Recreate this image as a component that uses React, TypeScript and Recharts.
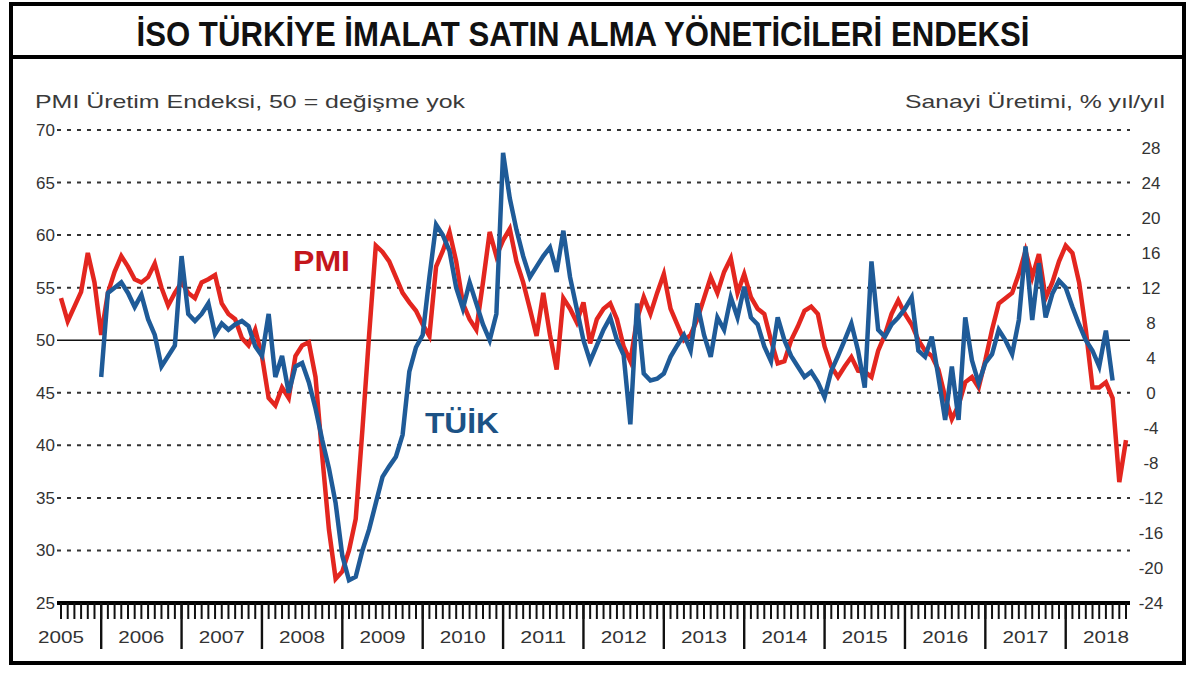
import { LineChart, Line, XAxis, YAxis, ReferenceLine } from "recharts";

// Jul 2005 .. Oct 2018, monthly
const years = [2005, 2006, 2007, 2008, 2009, 2010, 2011, 2012, 2013, 2014, 2015, 2016, 2017, 2018];
const firstMonth = 7;
const lastMonth = 10;

// PMI Üretim Endeksi (left axis), one row per year
const pmi = [
  54.0, 51.8, 53.2, 54.6, 58.3, 55.5,
  50.5, 54.5, 56.5, 58.0, 57.0, 55.8, 55.5, 56.0, 57.3, 55.0, 53.3, 54.5,
  55.5, 54.5, 54.0, 55.5, 55.8, 56.2, 53.5, 52.5, 52.0, 50.2, 49.5, 51.0,
  48.5, 44.5, 43.8, 45.5, 44.5, 48.5, 49.5, 49.8, 46.5, 39.0, 32.0, 27.3,
  28.0, 30.0, 33.0, 41.5, 50.5, 59.0, 58.4, 57.5, 56.0, 54.5, 53.6, 52.8,
  51.5, 50.4, 57.0, 58.5, 60.3, 57.5, 53.5, 52.0, 51.0, 55.5, 60.3, 58.0,
  59.5, 60.6, 57.5, 55.5, 53.0, 50.4, 54.5, 50.5, 47.2, 54.0, 53.0, 51.7,
  53.6, 49.7, 52.0, 53.0, 53.5, 52.0, 49.4, 48.0, 52.0, 54.1, 52.5, 54.5,
  56.3, 53.0, 51.5, 50.0, 50.5, 52.0, 54.0, 56.0, 54.5, 56.5, 57.8, 54.5,
  56.3, 54.1, 53.0, 52.5, 50.0, 47.8, 48.0, 50.0, 51.3, 52.8, 53.2, 52.5,
  49.4, 47.5, 46.5, 47.5, 48.4, 47.1, 47.0, 46.5, 49.0, 50.5, 52.5, 53.8,
  52.5, 51.5, 50.0, 49.0, 48.5, 47.2, 44.6, 42.5, 43.8, 46.0, 46.5, 45.5,
  48.1, 51.0, 53.5, 54.0, 54.5, 56.3, 58.5, 56.0, 58.2, 54.0, 55.5, 57.5,
  59.0, 58.3, 55.5, 51.0, 45.5, 45.5, 46.0, 44.5, 36.5, 40.5,
];

// TÜİK sanayi üretimi, % yıl/yıl (right axis)
const tuik = [
  null, null, null, null, null, null,
  1.8, 11.4, 12.0, 12.6, 11.4, 9.8, 11.2, 8.4, 6.6, 3.0, 4.2, 5.4,
  15.6, 9.0, 8.2, 9.0, 10.2, 6.7, 7.9, 7.2, 7.8, 8.2, 7.6, 5.3,
  4.2, 9.0, 1.8, 4.2, 0.0, 3.0, 3.4, 1.2, -1.8, -5.4, -8.6, -12.6,
  -18.6, -21.4, -21.0, -18.0, -15.6, -12.6, -9.6, -8.4, -7.3, -4.8, 2.4, 5.2,
  6.6, 13.2, 19.2, 18.0, 16.2, 12.0, 9.6, 12.6, 10.2, 7.8, 6.0, 9.0,
  27.4, 22.2, 18.6, 15.6, 13.2, 14.4, 15.6, 16.6, 13.8, 18.5, 13.2, 9.6,
  6.0, 3.6, 5.4, 7.2, 8.6, 6.0, 4.3, -3.6, 10.2, 2.2, 1.4, 1.6,
  2.2, 4.1, 5.4, 6.6, 4.8, 10.2, 6.6, 4.1, 8.6, 7.2, 10.9, 8.6,
  12.1, 8.6, 7.8, 5.3, 3.6, 8.6, 6.0, 4.2, 3.0, 1.8, 2.4, 1.2,
  -0.5, 2.5, 4.2, 6.0, 7.9, 4.8, 0.6, 15.0, 7.2, 6.4, 7.8, 8.6,
  9.6, 10.9, 4.8, 4.1, 6.4, 1.8, -3.1, 3.0, -3.1, 8.6, 3.7, 1.1,
  3.4, 4.4, 7.2, 6.0, 4.4, 8.3, 16.7, 8.3, 14.8, 8.6, 11.3, 12.8,
  12.0, 9.8, 7.8, 6.0, 4.8, 3.0, 7.1, 1.4, null, null,
];

const leftTicks = [25, 30, 35, 40, 45, 50, 55, 60, 65, 70];
const rightTicks = [-24, -20, -16, -12, -8, -4, 0, 4, 8, 12, 16, 20, 24, 28];
const gridValues = [30, 35, 40, 45, 55, 60, 65, 70];

const months: string[] = [];
years.forEach((y, yi) => {
  const from = yi === 0 ? firstMonth : 1;
  const to = yi === years.length - 1 ? lastMonth : 12;
  for (let m = from; m <= to; m++) months.push(`${y}-${String(m).padStart(2, "0")}`);
});

const data = months.map((m, i) => ({ m, pmi: pmi[i], tuik: tuik[i] }));

const FONT = '"Liberation Sans", Arial, sans-serif';
const RED = "#e3261f";
const BLUE = "#1f5b98";

const MonthTick = (props: any) => {
  const { x, y, payload } = props;
  const [yr, mo] = String(payload.value).split("-").map(Number);
  return (
    <g>
      <line x1={x} x2={x} y1={y} y2={y + 16} stroke="#111" strokeWidth={2} />
      {mo === 1 && <line x1={x} x2={x} y1={y} y2={y + 46} stroke="#111" strokeWidth={2.4} />}
      {mo === 7 && (
        <text x={x} y={y + 40} textAnchor="middle" fontSize={17} fontFamily={FONT} fill="#333"
          textLength={46} lengthAdjust="spacingAndGlyphs">
          {yr}
        </text>
      )}
    </g>
  );
};

const LeftTick = (props: any) => (
  <text x={props.x} y={props.y} dy={6} textAnchor="end" fontSize={17} fontFamily={FONT} fill="#333">
    {props.payload.value}
  </text>
);

const RightTick = (props: any) => (
  <text x={props.x} y={props.y} dy={6} textAnchor="middle" fontSize={17} fontFamily={FONT} fill="#333">
    {props.payload.value}
  </text>
);

export default function App() {
  return (
    <div style={{ position: "absolute", left: 0, top: 0, width: 1200, height: 676, background: "#fff" }}>
      {/* outer frame + title box */}
      <div style={{ position: "absolute", left: 9, top: 2, width: 1177, height: 663, border: "4px solid #000", boxSizing: "border-box" }} />
      <div style={{ position: "absolute", left: 9, top: 55, width: 1177, height: 4, background: "#000" }} />

      <LineChart width={1200} height={676} data={data} margin={{ top: 130, right: 10, bottom: 23, left: 10 }}>
        <XAxis dataKey="m" interval={0} tickSize={0} tickMargin={0} tick={MonthTick} height={50}
          padding={{ left: 4, right: 4 }} axisLine={{ stroke: "#000", strokeWidth: 4 }} />
        <YAxis yAxisId="left" domain={[25, 70]} ticks={leftTicks} width={47} tickSize={0} tickMargin={2}
          axisLine={false} tickLine={false} tick={LeftTick} allowDataOverflow />
        <YAxis yAxisId="right" orientation="right" domain={[-24, 30]} ticks={rightTicks} width={60} tickSize={0}
          tickMargin={21} axisLine={false} tickLine={false} tick={RightTick} allowDataOverflow />
        {gridValues.map((v) => (
          <ReferenceLine key={v} yAxisId="left" y={v} stroke="#333" strokeWidth={2} strokeDasharray="4 6" />
        ))}
        <ReferenceLine yAxisId="left" y={50} stroke="#111" strokeWidth={1.5} />
        <Line yAxisId="left" type="linear" dataKey="pmi" stroke={RED} strokeWidth={4.5} dot={false}
          isAnimationActive={false} />
        <Line yAxisId="right" type="linear" dataKey="tuik" stroke={BLUE} strokeWidth={4.5} dot={false}
          isAnimationActive={false} />
      </LineChart>

      <svg width={1200} height={676} style={{ position: "absolute", left: 0, top: 0, pointerEvents: "none" }}>
        <text x={583} y={46} textAnchor="middle" fontFamily='"Liberation Sans Narrow", "Liberation Sans", Arial, sans-serif'
          fontWeight="bold" fontSize={35} fill="#111" textLength={893} lengthAdjust="spacingAndGlyphs">
          İSO TÜRKİYE İMALAT SATIN ALMA YÖNETİCİLERİ ENDEKSİ
        </text>
        <text x={35} y={108} fontFamily={FONT} fontSize={19} fill="#3a3a3a" textLength={430} lengthAdjust="spacingAndGlyphs">
          PMI Üretim Endeksi, 50 = değişme yok
        </text>
        <text x={1165} y={108} textAnchor="end" fontFamily={FONT} fontSize={19} fill="#3a3a3a" textLength={260}
          lengthAdjust="spacingAndGlyphs">
          Sanayi Üretimi, % yıl/yıl
        </text>
        <text x={293} y={271} fontFamily={FONT} fontWeight="bold" fontSize={29} fill="#c4161c" textLength={57}
          lengthAdjust="spacingAndGlyphs">
          PMI
        </text>
        <text x={425} y={433} fontFamily={FONT} fontWeight="bold" fontSize={30} fill="#1c5285" textLength={74}
          lengthAdjust="spacingAndGlyphs">
          TÜİK
        </text>
      </svg>
    </div>
  );
}
